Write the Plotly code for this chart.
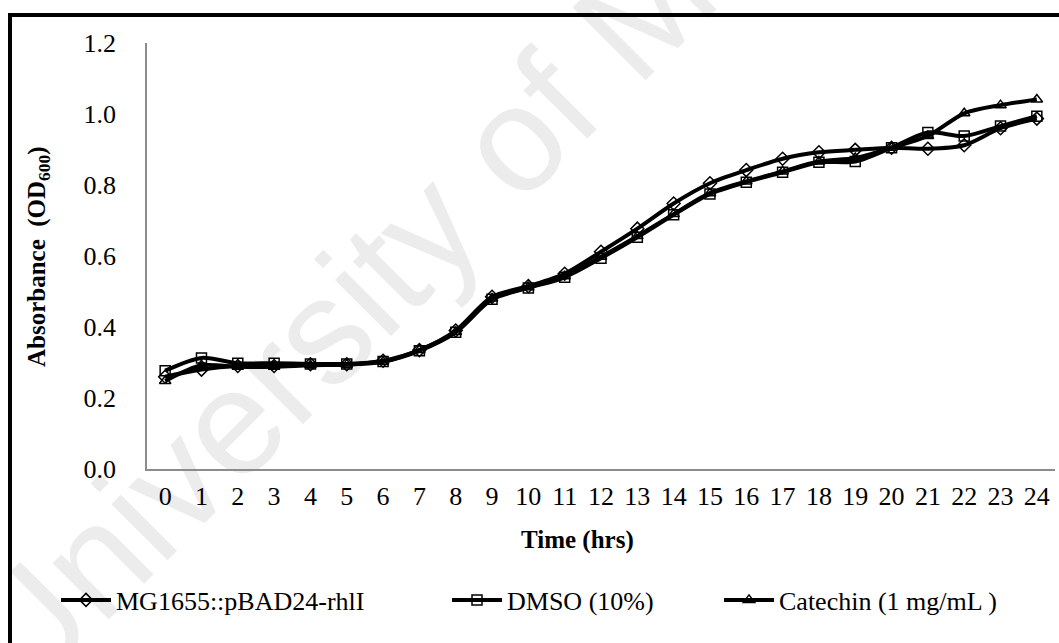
import plotly.graph_objects as go

# Growth curves: optical density over 24 h
hours = list(range(25))
hour_labels = [str(h) for h in hours]

mg1655 = [0.260, 0.280, 0.290, 0.290, 0.295, 0.295, 0.305, 0.335, 0.390, 0.485,
          0.515, 0.550, 0.612, 0.677, 0.748, 0.805, 0.842, 0.874, 0.892, 0.899,
          0.905, 0.902, 0.912, 0.960, 0.987]
dmso = [0.277, 0.313, 0.298, 0.298, 0.296, 0.296, 0.303, 0.333, 0.385, 0.478,
        0.510, 0.540, 0.594, 0.653, 0.716, 0.775, 0.808, 0.836, 0.864, 0.866,
        0.905, 0.948, 0.938, 0.966, 0.994]
catechin = [0.248, 0.292, 0.288, 0.288, 0.292, 0.294, 0.302, 0.335, 0.386, 0.480,
            0.512, 0.543, 0.598, 0.656, 0.718, 0.777, 0.810, 0.838, 0.866, 0.876,
            0.905, 0.938, 1.002, 1.025, 1.041]

series_names = ["MG1655::pBAD24-rhlI", "DMSO (10%)", "Catechin (1 mg/mL )"]
series_values = [mg1655, dmso, catechin]
series_symbols = ["diamond-open", "square-open", "triangle-up-open"]
y_ticks = [0.0, 0.2, 0.4, 0.6, 0.8, 1.0, 1.2]

W, H = 1059, 643
ML, MR, MT, MB = 147, 4, 43, 174
PW, PH = W - ML - MR, H - MT - MB


def px_x(p):
    return (p - ML) / PW


def px_y(p):
    return (H - MB - p) / PH


SERIF = "Liberation Serif"

fig = go.Figure()
legend_ids = ["legend", "legend2", "legend3"]
for name, vals, sym, lg in zip(series_names, series_values, series_symbols, legend_ids):
    fig.add_trace(go.Scatter(
        x=hours, y=vals, name=name, mode="lines+markers",
        line=dict(color="black", width=4, shape="spline", smoothing=0.8),
        marker=dict(symbol=sym, size=10, color="black",
                    line=dict(color="black", width=1.5)),
        legend=lg,
    ))

legend_x = [56, 447, 719]
layout_legends = {}
for lg, xp in zip(legend_ids, legend_x):
    layout_legends[lg] = dict(
        orientation="h", yanchor="middle", xanchor="left",
        x=px_x(xp), y=px_y(600),
        font=dict(family=SERIF, size=26, color="black"),
        bgcolor="rgba(0,0,0,0)", itemwidth=50,
    )

fig.update_layout(
    width=W, height=H,
    margin=dict(l=ML, r=MR, t=MT, b=MB),
    paper_bgcolor="white", plot_bgcolor="rgba(0,0,0,0)",
    showlegend=True,
    font=dict(family=SERIF, color="black"),
    **layout_legends,
)

fig.update_xaxes(
    range=[-0.5, 24.5], tickmode="array", tickvals=hours, ticktext=hour_labels,
    showgrid=False, zeroline=False, showline=True, linecolor="#8c8c8c", linewidth=1.5,
    ticks="", ticklabelstandoff=3,
    tickfont=dict(family=SERIF, size=26, color="black"),
)
fig.update_yaxes(
    range=[0, 1.2], tickmode="array", tickvals=y_ticks,
    ticktext=[f"{v:.1f}" for v in y_ticks],
    showgrid=False, zeroline=False, showline=True, linecolor="#8c8c8c", linewidth=1.5,
    ticks="", ticklabelstandoff=24,
    tickfont=dict(family=SERIF, size=26, color="black"),
)

# Axis titles
fig.add_annotation(
    text="<b>Time (hrs)</b>", xref="paper", yref="paper",
    x=px_x(577), y=px_y(540), showarrow=False, xanchor="center", yanchor="middle",
    font=dict(family=SERIF, size=25, color="black"),
)
fig.add_annotation(
    text="<b>Absorbance  (OD<sub>600</sub>)</b>", xref="paper", yref="paper",
    x=px_x(38), y=px_y(257), showarrow=False, textangle=-90,
    xanchor="center", yanchor="middle",
    font=dict(family=SERIF, size=25, color="black"),
)

# Watermark behind the data
fig.add_shape(
    type="line", xref="paper", yref="paper", layer="below",
    x0=px_x(40), y0=px_y(718), x1=px_x(805), y1=px_y(-50),
    line=dict(color="rgba(0,0,0,0)", width=0),
    label=dict(text="University of Malaya", textposition="start",
               font=dict(family="Liberation Sans", size=150, color="#ececec")),
)

# Frame around the chart area
fig.add_shape(
    type="rect", xref="paper", yref="paper", layer="above",
    x0=px_x(10), y0=px_y(15), x1=px_x(1070), y1=px_y(660),
    line=dict(color="black", width=4), fillcolor="rgba(0,0,0,0)",
)

fig.write_html("out.html")
